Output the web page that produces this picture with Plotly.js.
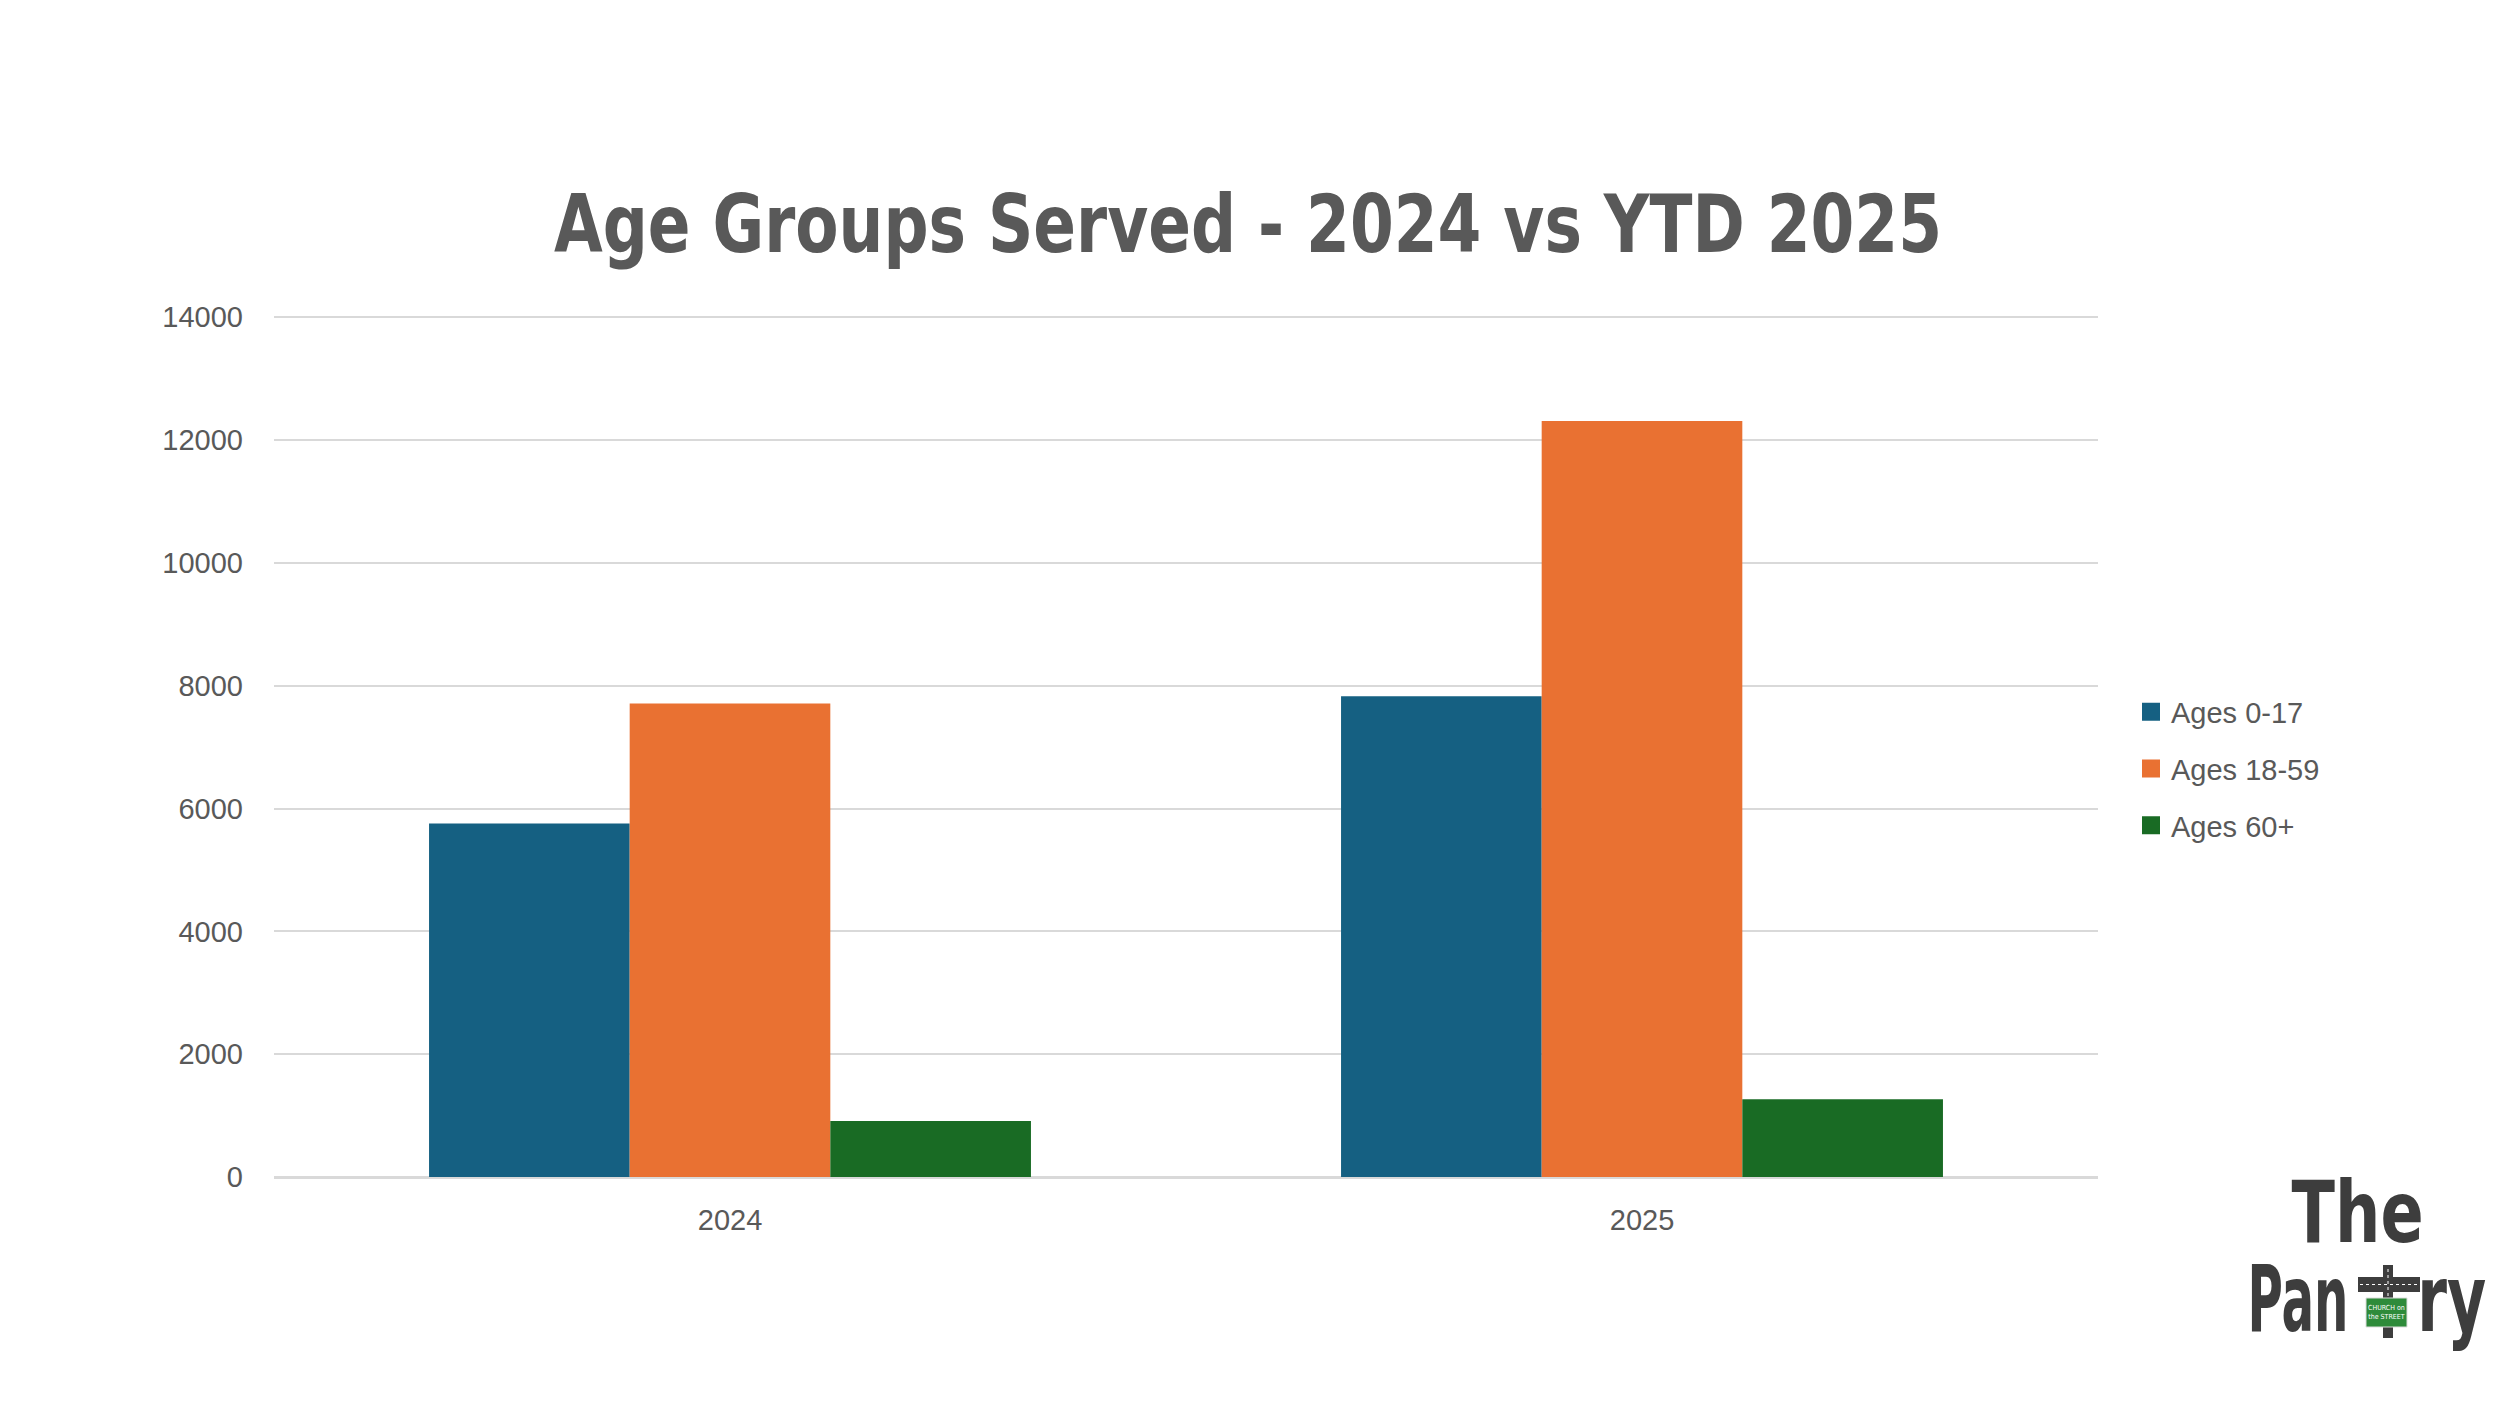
<!DOCTYPE html>
<html>
<head>
<meta charset="utf-8">
<script src="https://cdn.plot.ly/plotly-3.0.1.min.js"></script>
<style>html,body{margin:0;padding:0;background:#fff;}#chart{width:2500px;height:1406px;}</style>
</head>
<body>
<div id="chart"></div>
<script>
const categories = ["2024", "2025"];
const seriesNames = ["Ages 0-17", "Ages 18-59", "Ages 60+"];
const ages0to17 = [5755, 7830];
const ages18to59 = [7710, 12310];
const ages60plus = [910, 1265];
const yTickValues = [0, 2000, 4000, 6000, 8000, 10000, 12000, 14000];
const titleText = "Age Groups Served - 2024 vs YTD 2025";
const logoTop = "The";
const logoLeft = "Pan";
const logoRight = "ry";
const signText = "CHURCH on<br>the STREET";

const colors = ["#156082", "#E97132", "#196B24"];
const W = 2500, H = 1406;
const M = {l: 274, r: 402, t: 316, b: 229};
const PW = W - M.l - M.r, PH = H - M.t - M.b;
const px = v => (v - M.l) / PW;
const py = v => (H - M.b - v) / PH;

const TXT = "#595959";
const BASE = "'Liberation Sans', Arial, sans-serif";
const NARROW = "'DejaVu Sans Condensed', 'DejaVu Sans', sans-serif";

const seriesValues = [ages0to17, ages18to59, ages60plus];
const traces = seriesValues.map((vals, i) => ({
  type: "bar",
  name: seriesNames[i],
  x: categories,
  y: vals,
  marker: {color: colors[i], line: {width: 0}},
  legendgroup: "g" + i,
  hoverinfo: "x+y+name"
}));

const LOGO = "#3d3d3d";
const LOGO_BASE_SIZE = 50;
const layout = {
  width: W, height: H,
  margin: M,
  paper_bgcolor: "#ffffff",
  plot_bgcolor: "#ffffff",
  font: {family: BASE, color: TXT, size: 29},
  title: {
    text: "<b>" + titleText + "</b>",
    font: {family: NARROW, size: 81, color: TXT},
    x: 0.4992, xanchor: "center", xref: "container",
    y: 1 - 224 / H, yanchor: "middle", yref: "container"
  },
  barmode: "group",
  bargap: 0.34,
  bargroupgap: 0,
  xaxis: {
    type: "category",
    showgrid: false, showline: false, zeroline: false,
    ticks: "", ticklabelstandoff: 23,
    tickfont: {family: BASE, size: 29, color: TXT}
  },
  yaxis: {
    range: [0, 14020],
    tickvals: yTickValues,
    ticktext: yTickValues.map(String),
    showgrid: true, gridcolor: "#d9d9d9", gridwidth: 2,
    zeroline: true, zerolinecolor: "#d9d9d9", zerolinewidth: 3,
    showline: false, ticks: "", ticklabelstandoff: 30,
    tickfont: {family: BASE, size: 29, color: TXT}
  },
  showlegend: true,
  legend: {
    orientation: "v",
    xref: "container", yref: "container",
    x: 2131 / W, xanchor: "left",
    y: 1 - 769 / H, yanchor: "middle",
    font: {family: BASE, size: 29, color: TXT},
    tracegroupgap: 16,
    bgcolor: "rgba(0,0,0,0)", borderwidth: 0
  },
  shapes: [
    {type: "rect", xref: "paper", yref: "paper", x0: px(2383), x1: px(2393), y0: py(1338), y1: py(1265), fillcolor: LOGO, line: {width: 0}},
    {type: "rect", xref: "paper", yref: "paper", x0: px(2358), x1: px(2420), y0: py(1292), y1: py(1277), fillcolor: LOGO, line: {width: 0}},
    {type: "line", xref: "paper", yref: "paper", x0: px(2388), x1: px(2388), y0: py(1296), y1: py(1267), line: {color: "#ffffff", width: 1, dash: "dot"}},
    {type: "line", xref: "paper", yref: "paper", x0: px(2360), x1: px(2418), y0: py(1284.5), y1: py(1284.5), line: {color: "#ffffff", width: 1, dash: "dot"}},
    {type: "rect", xref: "paper", yref: "paper", x0: px(2366), x1: px(2407), y0: py(1327), y1: py(1298), fillcolor: "#2e8b3a", line: {color: "#dddddd", width: 1}}
  ],
  annotations: [
    {text: "<b>" + logoTop + "</b>", xref: "paper", yref: "paper", x: px(2357), y: py(1213), xanchor: "center", yanchor: "middle",
     showarrow: false, font: {family: NARROW, size: LOGO_BASE_SIZE, color: LOGO}},
    {text: "<b>" + logoLeft + "</b>", xref: "paper", yref: "paper", x: px(2297.5), y: py(1299), xanchor: "center", yanchor: "middle",
     showarrow: false, font: {family: NARROW, size: LOGO_BASE_SIZE, color: LOGO}},
    {text: "<b>" + logoRight + "</b>", xref: "paper", yref: "paper", x: px(2451.5), y: py(1299), xanchor: "center", yanchor: "middle",
     showarrow: false, font: {family: NARROW, size: LOGO_BASE_SIZE, color: LOGO}},
    {text: signText, xref: "paper", yref: "paper", x: px(2386.5), y: py(1312.5), xanchor: "center", yanchor: "middle",
     showarrow: false, font: {family: NARROW, size: 7, color: "#ffffff"}}
  ]
};

// logo lettering: drawn size and width that each word is stretched to
const logoSizes = [85, 93, 93];
const logoWidths = [132, 101, 69];

Plotly.newPlot("chart", traces, layout, {displayModeBar: false, staticPlot: true}).then(gd => {
  const t = gd.querySelector("text.gtitle");
  if (t) { t.setAttribute("textLength", "1388"); t.setAttribute("lengthAdjust", "spacingAndGlyphs"); }
  const ann = gd.querySelectorAll("text.annotation-text");
  ann.forEach((el, i) => {
    if (i >= logoSizes.length) return;
    const L = el.getComputedTextLength();
    const bb = el.getBBox();
    const cx = bb.x + bb.width / 2, cy = bb.y + bb.height / 2;
    const sx = logoWidths[i] / L, sy = logoSizes[i] / LOGO_BASE_SIZE;
    const prev = el.getAttribute("transform") || "";
    el.setAttribute("transform", prev + " translate(" + cx + "," + cy + ") scale(" + sx + "," + sy + ") translate(" + (-cx) + "," + (-cy) + ")");
  });
  gd.querySelectorAll(".legendpoints path").forEach(p => p.setAttribute("d", "M9,9H-9V-9H9Z"));
});
</script>
</body>
</html>
